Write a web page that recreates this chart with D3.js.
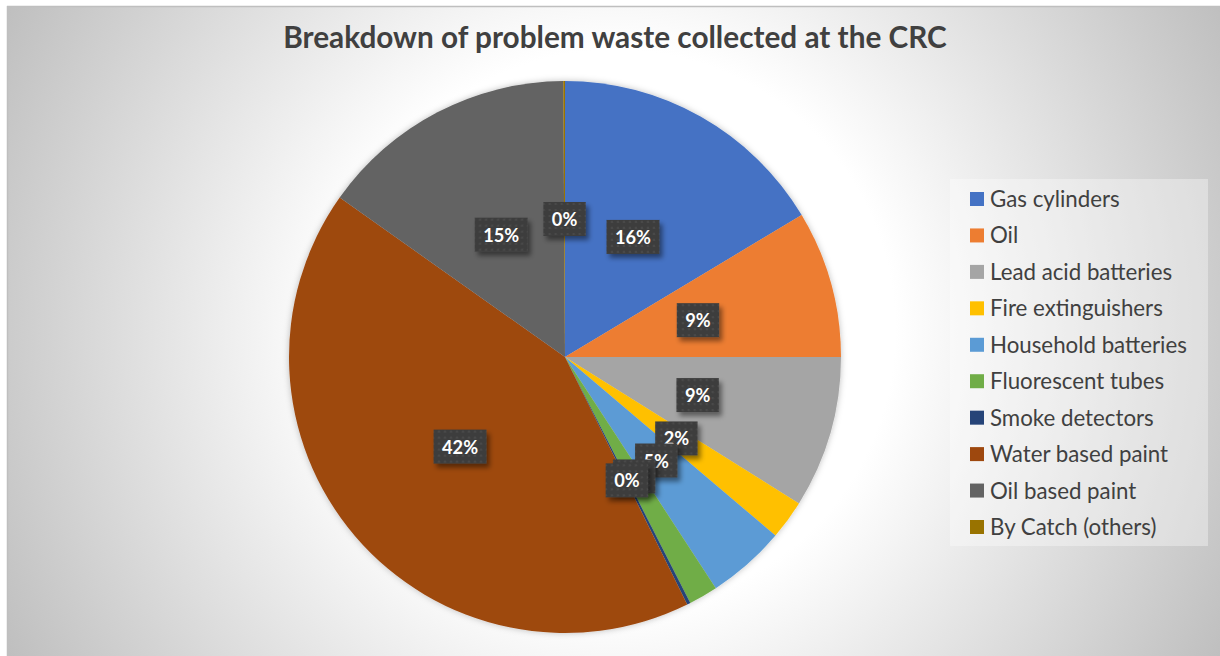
<!DOCTYPE html>
<html>
<head>
<meta charset="utf-8">
<script src="https://cdn.jsdelivr.net/npm/d3@7"></script>
<style>
  body { margin: 0; background: #ffffff; }
  svg { display: block; }
</style>
</head>
<body>
<div id="chart"></div>
<script>
// data (percent of total)
var categories = ["Gas cylinders", "Oil", "Lead acid batteries", "Fire extinguishers",
  "Household batteries", "Fluorescent tubes", "Smoke detectors", "Water based paint",
  "Oil based paint", "By Catch (others)"];
var values = [16.4, 8.6, 8.9, 2.3, 4.6, 1.7, 0.2, 42.1, 15.1, 0.1];
var colors = ["#4472C4", "#ED7D31", "#A5A5A5", "#FFC000", "#5B9BD5",
  "#70AD47", "#264478", "#9E480E", "#636363", "#997300"];
var titleText = "Breakdown of problem waste collected at the CRC";

var width = 1220, height = 656;
var cx = 565, cy = 357, radius = 276;
var fontFamily = "Lato, 'Open Sans', sans-serif";

var svg = d3.select("#chart").append("svg")
  .attr("width", width)
  .attr("height", height);

var defs = svg.append("defs");

// chart area background (radial grey gradient)
var bg = defs.append("radialGradient")
  .attr("id", "bgGrad")
  .attr("gradientUnits", "userSpaceOnUse")
  .attr("cx", 615).attr("cy", 330).attr("r", 700);
bg.append("stop").attr("offset", "0.4").attr("stop-color", "#ffffff");
bg.append("stop").attr("offset", "1").attr("stop-color", "#bdbdbd");

// dotted dark fill of data labels
var pat = defs.append("pattern")
  .attr("id", "lblPat")
  .attr("patternUnits", "userSpaceOnUse")
  .attr("width", 6).attr("height", 6);
pat.append("rect").attr("width", 6).attr("height", 6).attr("fill", "#3e3e3e");
pat.append("circle").attr("cx", 3).attr("cy", 3).attr("r", 1.1).attr("fill", "#4b4b4b");

var shadow = defs.append("filter").attr("id", "lblShadow")
  .attr("x", "-30%").attr("y", "-30%").attr("width", "170%").attr("height", "170%");
shadow.append("feDropShadow")
  .attr("dx", 3).attr("dy", 4).attr("stdDeviation", 2.5)
  .attr("flood-color", "#000").attr("flood-opacity", 0.45);

var pieShadow = defs.append("filter").attr("id", "pieShadow")
  .attr("x", "-10%").attr("y", "-10%").attr("width", "120%").attr("height", "120%");
pieShadow.append("feDropShadow")
  .attr("dx", 0).attr("dy", 0).attr("stdDeviation", 3)
  .attr("flood-color", "#000").attr("flood-opacity", 0.25);

svg.append("rect")
  .attr("x", 7).attr("y", 6)
  .attr("width", width - 7).attr("height", height - 6)
  .attr("fill", "url(#bgGrad)");
svg.append("line")
  .attr("x1", 7).attr("x2", width).attr("y1", 6.5).attr("y2", 6.5)
  .attr("stroke", "#bfbfbf").attr("stroke-width", 1.5);
svg.append("line")
  .attr("x1", 7.5).attr("x2", 7.5).attr("y1", 6).attr("y2", height)
  .attr("stroke", "#bfbfbf").attr("stroke-width", 1.5);

// fit a text element to a target width by scaling its font size
function fitText(sel, target) {
  var fs = parseFloat(sel.attr("font-size"));
  var w = sel.node().getComputedTextLength();
  sel.attr("font-size", fs * target / w);
}

// title
var title = svg.append("text")
  .attr("x", 615).attr("y", 48)
  .attr("text-anchor", "middle")
  .attr("font-family", fontFamily)
  .attr("font-weight", "bold")
  .attr("font-size", 30)
  .attr("fill", "#404040")
  .text(titleText);
fitText(title, 664);

// pie
var pie = d3.pie().sort(null).value(d => d);
var arcs = pie(values);
var arc = d3.arc().innerRadius(0).outerRadius(radius);
var labelArc = d3.arc().innerRadius(radius / 2).outerRadius(radius / 2);
var total = d3.sum(values);

var g = svg.append("g").attr("transform", "translate(" + cx + "," + cy + ")");

g.append("g")
  .attr("filter", "url(#pieShadow)")
  .selectAll("path")
  .data(arcs)
  .enter()
  .append("path")
  .attr("d", arc)
  .attr("fill", (d, i) => colors[i]);

// label font size: "16%" is about 36px wide in the reference
var probe = svg.append("text")
  .attr("font-family", fontFamily).attr("font-weight", "bold")
  .attr("font-size", 20).text("16%");
var labelSize = 20 * 36 / probe.node().getComputedTextLength();
probe.remove();

// data labels, later ones drawn on top like in the original
var labels = g.selectAll("g.lbl")
  .data(arcs)
  .enter()
  .append("g")
  .attr("class", "lbl")
  .attr("transform", d => "translate(" + labelArc.centroid(d) + ")");

labels.each(function(d) {
  var lg = d3.select(this);
  var box = lg.append("rect").attr("fill", "url(#lblPat)").attr("filter", "url(#lblShadow)");
  var t = lg.append("text")
    .attr("text-anchor", "middle")
    .attr("y", 7)
    .attr("font-family", fontFamily)
    .attr("font-weight", "bold")
    .attr("font-size", labelSize)
    .attr("fill", "#ffffff")
    .text(Math.round(d.value / total * 100) + "%");
  var w = t.node().getComputedTextLength();
  box.attr("x", -(w + 17) / 2).attr("y", -17)
    .attr("width", w + 17).attr("height", 34);
});

// legend
var legend = svg.append("g").attr("transform", "translate(950,179)");
legend.append("rect")
  .attr("width", 258).attr("height", 367)
  .attr("fill", "#ffffff").attr("fill-opacity", 0.35);

var rowY = d3.scalePoint()
  .domain(categories)
  .range([20, 348]);

var items = legend.selectAll("g.item")
  .data(categories)
  .enter()
  .append("g")
  .attr("class", "item")
  .attr("transform", d => "translate(0," + rowY(d) + ")");

items.append("rect")
  .attr("x", 20).attr("y", -7)
  .attr("width", 14).attr("height", 14)
  .attr("fill", (d, i) => colors[i]);

var legendTexts = items.append("text")
  .attr("x", 40).attr("y", 8)
  .attr("font-family", fontFamily)
  .attr("font-size", 21)
  .attr("fill", "#404040")
  .text(d => d);

// size legend font so "Household batteries" matches the reference width
var ref = legendTexts.filter(d => d === "Household batteries");
var fs = parseFloat(ref.attr("font-size"));
var scaled = fs * 197 / ref.node().getComputedTextLength();
legendTexts.attr("font-size", scaled);
</script>
</body>
</html>
